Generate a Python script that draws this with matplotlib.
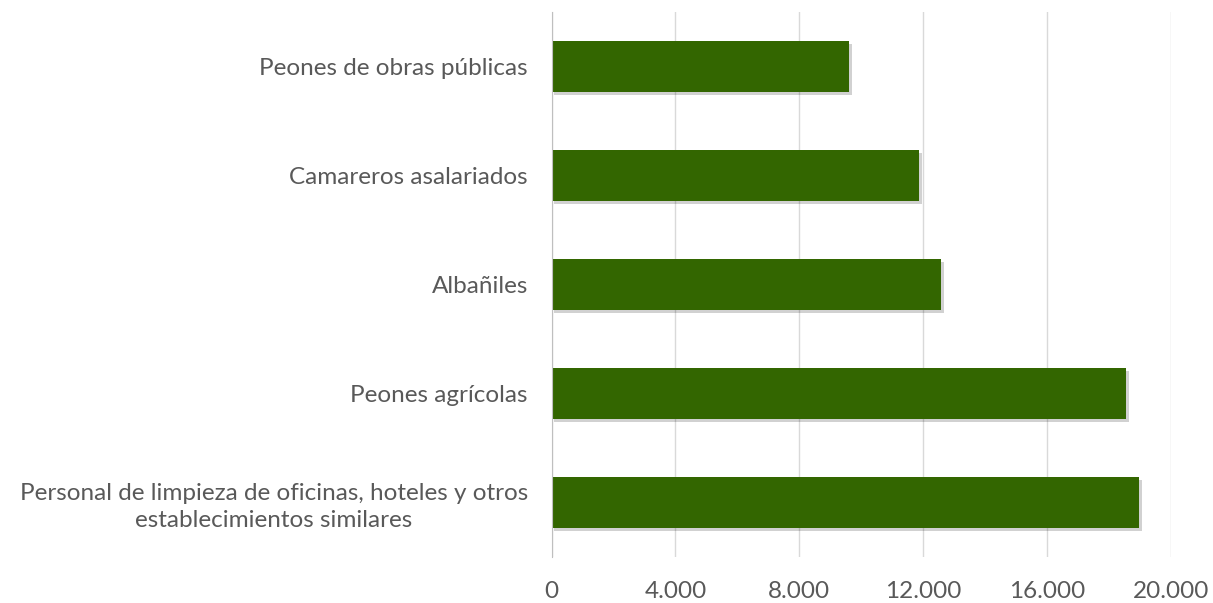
import matplotlib
matplotlib.use('Agg')
import matplotlib.pyplot as plt
import matplotlib.patheffects as pe
from matplotlib.ticker import FuncFormatter

categories = ['Peones de obras públicas',
	'Camareros asalariados',
	'Albañiles',
	'Peones agrícolas',
	'Personal de limpieza de oficinas, hoteles y otros\nestablecimientos similares']
values = [9600, 11870, 12580, 18570, 18990]
xticks = [0, 4000, 8000, 12000, 16000, 20000]

plt.rcParams['font.family'] = ['Lato', 'DejaVu Sans']

fig = plt.figure(figsize=(12.13, 6.03), dpi=100)
ax = fig.add_axes([0.4547, 0.0763, 0.5104, 0.9037])

ypos = list(range(len(categories)))
bars = ax.barh(ypos, values, height=0.47, color='#336600', zorder=3)
for b in bars:
	b.set_path_effects([pe.SimplePatchShadow(offset=(2, -2), shadow_rgbFace='#000000', alpha=0.18), pe.Normal()])

ax.set_ylim(4.5, -0.5)
ax.set_xlim(0, 20000)
ax.set_yticks(ypos)
ax.set_yticklabels(categories, fontsize=17.5, color='#595959', multialignment='center', linespacing=1.35)
ax.tick_params(axis='y', length=0, pad=17)

ax.set_xticks(xticks)
ax.xaxis.set_major_formatter(FuncFormatter(lambda v, p: '{:,.0f}'.format(v).replace(',', '.')))
ax.tick_params(axis='x', length=0, labelsize=17.5, labelcolor='#595959', pad=17)
ax.grid(axis='x', color='#d9d9d9', linewidth=1, zorder=0)

for s in ['top', 'right', 'bottom']:
	ax.spines[s].set_visible(False)
ax.spines['left'].set_color('#bfbfbf')
ax.spines['left'].set_zorder(4)

fig.savefig('out.png', dpi=100)
